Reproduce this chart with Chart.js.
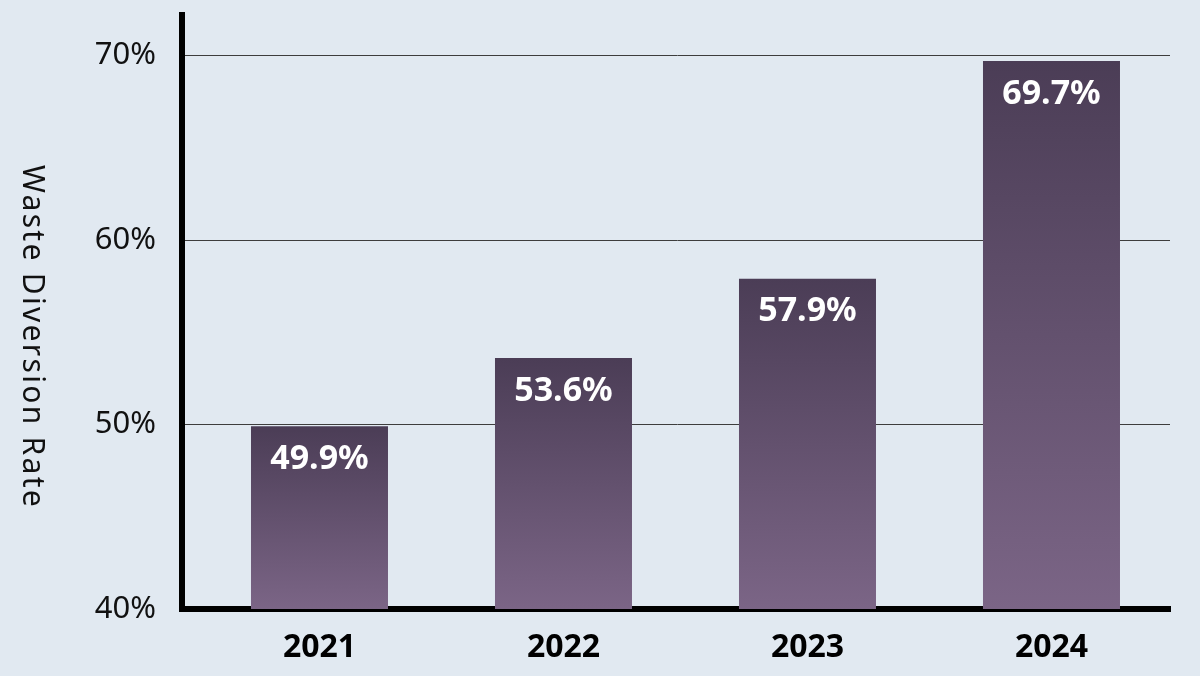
<!DOCTYPE html>
<html>
<head>
<meta charset="utf-8">
<script src="https://cdn.jsdelivr.net/npm/chart.js@4/dist/chart.umd.min.js"></script>
<style>
  html, body { margin: 0; padding: 0; background: #e1e9f1; }
  #wrap { width: 1200px; height: 676px; }
</style>
</head>
<body>
<div id="wrap"><canvas id="c" width="1200" height="676"></canvas></div>
<script>
const years = ["2021", "2022", "2023", "2024"];
const rates = [49.9, 53.6, 57.9, 69.7];
const yTicks = [40, 50, 60, 70];
const yTitle = "Waste Diversion Rate";

const points = rates.map((v, i) => ({ x: i, y: v }));

const barLabels = {
  id: 'barLabels',
  afterDatasetsDraw(chart) {
    const ctx = chart.ctx;
    const meta = chart.getDatasetMeta(0);
    ctx.save();
    ctx.font = 'bold 34px "Noto Sans"';
    ctx.fillStyle = '#ffffff';
    ctx.textAlign = 'center';
    ctx.textBaseline = 'middle';
    meta.data.forEach((bar, i) => {
      ctx.fillText(rates[i].toFixed(1) + '%', bar.x, bar.y + 33);
    });
    ctx.restore();
  }
};

const sideTitle = {
  id: 'sideTitle',
  afterDraw(chart) {
    const ctx = chart.ctx;
    ctx.save();
    ctx.translate(32, 337);
    ctx.rotate(Math.PI / 2);
    ctx.font = '30px "Noto Sans"';
    ctx.letterSpacing = '2.3px';
    ctx.fillStyle = '#111111';
    ctx.textAlign = 'center';
    ctx.textBaseline = 'middle';
    ctx.fillText(yTitle, 0, 0);
    ctx.restore();
  }
};

new Chart(document.getElementById('c'), {
  type: 'bar',
  data: {
    datasets: [{
      data: points,
      barPercentage: 0.5615,
      categoryPercentage: 1,
      backgroundColor(context) {
        const chart = context.chart;
        const area = chart.chartArea;
        if (!area || !chart.scales.y) return '#5e4a69';
        const v = context.raw && context.raw.y;
        const top = chart.scales.y.getPixelForValue(v);
        const g = chart.ctx.createLinearGradient(0, top, 0, area.bottom);
        g.addColorStop(0, '#4b3d56');
        g.addColorStop(1, '#7b6586');
        return g;
      },
      borderWidth: 0
    }]
  },
  options: {
    responsive: false,
    animation: false,
    devicePixelRatio: 1,
    layout: { padding: { top: 15, right: 30, left: 0, bottom: 0 } },
    plugins: { legend: { display: false }, tooltip: { enabled: false } },
    scales: {
      x: {
        type: 'linear',
        offset: false,
        min: -0.5635,
        max: 3.4857,
        afterBuildTicks(scale) { scale.ticks = years.map((_, i) => ({ value: i })); },
        afterFit(scale) { scale.height = 67; scale.paddingLeft = 0; scale.paddingRight = 0; },
        grid: { display: false, drawTicks: false, offset: false },
        border: { display: true, color: '#000000', width: 6 },
        ticks: {
          padding: 20,
          color: '#000000',
          font: { family: 'Noto Sans', size: 32, weight: 'bold' },
          callback: (v) => years[v],
          maxRotation: 0
        }
      },
      y: {
        min: 40,
        max: 72.2,
        afterBuildTicks(scale) { scale.ticks = yTicks.map(v => ({ value: v })); },
        afterFit(scale) { scale.width = 182; scale.paddingTop = 0; scale.paddingBottom = 0; },
        grid: { color: '#3d3d3d', lineWidth: 1, drawTicks: false },
        border: { display: true, color: '#000000', width: 6 },
        ticks: {
          padding: 26,
          color: '#111111',
          font: { family: 'Noto Sans', size: 31 },
          callback: (v) => v + '%'
        }
      }
    }
  },
  plugins: [barLabels, sideTitle]
});
</script>
</body>
</html>
